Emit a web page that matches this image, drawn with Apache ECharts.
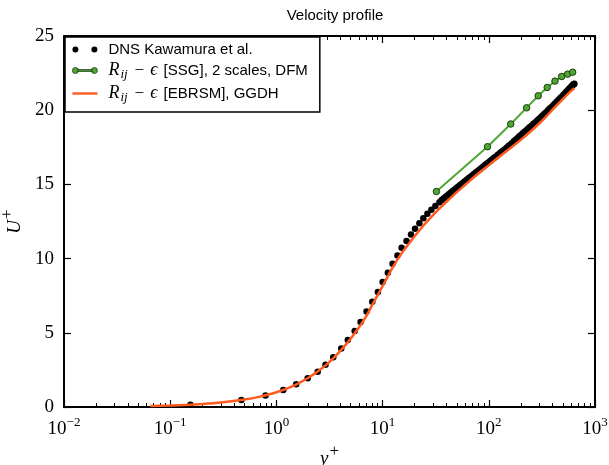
<!DOCTYPE html>
<html>
<head>
<meta charset="utf-8">
<script src="https://cdn.jsdelivr.net/npm/echarts@6/dist/echarts.min.js"></script>
<style>html,body{margin:0;padding:0;background:#fff}#c{width:609px;height:465px}</style>
</head>
<body>
<div id="c"></div>
<script>
// DNS Kawamura et al. (y+, U+)
const dnsY = [0.155,0.468,0.79,1.16,1.535,1.97,2.45,2.90,3.43,4.08,4.70,5.46,6.2,7.06,8.0,9.03,10.0,11.2,12.4,13.8,15.1,16.8,18.5,20.2,22.2,24.2,26.4,28.8,31.4,34.3,
  36,37.5,39,40.5,42,43.7,45.4,47.2,49,51,53,55,57.3,59.6,62,64.5,67,69.7,72.5,75.4,78.4,81.5,84.8,88.2,91.7,95.4,99.2,103,107,112,116,121,126,131,136,141,147,153,159,165,172,179,186,193,201,209,217,226,235,244,254,264,275,286,297,309,321,334,347,361,375,390,405,420,436,452,469,486,503,520,537,554,571,587,602,615,626,634,639];
const dnsU = [0.15,0.47,0.78,1.14,1.53,1.93,2.37,2.85,3.35,3.94,4.52,5.12,5.73,6.43,7.10,7.75,8.42,9.05,9.66,10.21,10.73,11.18,11.63,12.01,12.39,12.72,13.02,13.29,13.55,13.80,
  13.95,14.05,14.15,14.24,14.33,14.43,14.53,14.63,14.72,14.82,14.92,15.01,15.11,15.21,15.31,15.41,15.50,15.60,15.70,15.80,15.89,15.99,16.09,16.19,16.29,16.39,16.48,16.58,16.67,16.79,16.87,16.98,17.08,17.18,17.27,17.36,17.47,17.58,17.68,17.78,17.90,18.01,18.11,18.22,18.33,18.44,18.54,18.65,18.76,18.86,18.97,19.08,19.19,19.30,19.41,19.53,19.65,19.76,19.87,19.99,20.11,20.22,20.34,20.45,20.57,20.68,20.80,20.91,21.02,21.13,21.24,21.34,21.44,21.53,21.61,21.68,21.74,21.77,21.79];
// R_ij - eps [SSG], 2 scales, DFM
const ssgY = [32.1,97.2,161,227,292,355,420,485,552,616];
const ssgU = [14.52,17.54,19.07,20.16,20.97,21.53,21.96,22.27,22.43,22.56];
// R_ij - eps [EBRSM], GGDH
const ebY = [0.065,0.1,0.15,0.2,0.3,0.5,0.7,1.0,1.5,2.0,2.5,3.0,3.5,4.0,4.5,5.0,6.0,7.0,8.0,9.0,10,11,12,13.5,15,17,20,23,26,30,35,40,50,60,70,80,100,130,160,200,250,300,350,400,450,500,550,600,640];
const ebU = [0.065,0.1,0.15,0.2,0.3,0.5,0.7,0.99,1.48,1.97,2.44,2.89,3.34,3.78,4.2,4.6,5.37,6.1,6.88,7.55,8.15,8.7,9.2,9.83,10.33,10.85,11.5,12.03,12.47,12.95,13.43,13.83,14.48,14.98,15.4,15.75,16.3,16.95,17.45,18.0,18.6,19.12,19.6,20.05,20.43,20.77,21.07,21.32,21.48];

const xMinorTicks = [];
for (let k = -2; k <= 2; k++) for (let m = 2; m <= 9; m++) xMinorTicks.push(Math.log10(m) + k);

const serif = 'Liberation Serif';
const sans = 'Liberation Sans';
const pair = (xs, ys) => xs.map((x, i) => [x, ys[i]]);

const legendNames = {
  'DNS': '{pad|}DNS Kawamura et al.',
  'SSG': '{pad|}{it|R}{sub|ij}{op|−}{it|ϵ}{n| [SSG], 2 scales, DFM}',
  'EBRSM': '{pad|}{it|R}{sub|ij}{op|−}{it|ϵ}{n| [EBRSM], GGDH}'
};

const frame = {show: true, onZero: false, lineStyle: {color: '#000', width: 2}};
const supStyle = {fontFamily: serif, fontSize: 17, color: '#000', padding: [0, 0, 15, 1]};
const chart = echarts.init(document.getElementById('c'), null, {renderer: 'canvas'});
chart.setOption({
  animation: false,
  backgroundColor: '#fff',
  title: {
    text: 'Velocity profile', left: 330, top: 3, textAlign: 'center',
    textStyle: {fontFamily: sans, fontSize: 15, fontWeight: 'normal', color: '#000'}
  },
  grid: {left: 64, right: 14, top: 36, bottom: 58, containLabel: false, outerBoundsMode: 'none'},
  legend: {
    orient: 'vertical', left: 65, top: 37,
    padding: [4, 12, 8, 7], itemGap: 3.5, itemWidth: 25, itemHeight: 6,
    borderColor: '#000', borderWidth: 1.5, backgroundColor: '#fff',
    formatter: n => legendNames[n],
    textStyle: {
      fontFamily: sans, fontSize: 15, color: '#000', lineHeight: 17,
      rich: {
        pad: {width: 6},
        n: {fontFamily: sans, fontSize: 15, color: '#000', padding: [0, 0, 0, 2]},
        op: {fontFamily: serif, fontSize: 17, color: '#000', padding: [0, 6, 0, 7]},
        it: {fontFamily: serif, fontStyle: 'italic', fontSize: 18, color: '#000'},
        sub: {fontFamily: serif, fontStyle: 'italic', fontSize: 13, color: '#000', padding: [8, 0, 0, 1]}
      }
    },
    data: [
      {name: 'DNS', icon: 'path://M0,3a3,3 0 1,0 6,0a3,3 0 1,0 -6,0M19,3a3,3 0 1,0 6,0a3,3 0 1,0 -6,0', itemStyle: {color: '#000', opacity: 1}},
      {name: 'SSG', icon: 'path://M0,3a3,3 0 1,0 6,0a3,3 0 1,0 -6,0M19,3a3,3 0 1,0 6,0a3,3 0 1,0 -6,0M5,2.1H20V3.9H5Z', itemStyle: {color: '#4fa633', borderColor: '#1c3d10', borderWidth: 0.8}},
      {name: 'EBRSM', icon: 'path://M0,1.8H25V4.2H0Z', itemStyle: {color: '#ff5a1e', borderWidth: 0}}
    ]
  },
  xAxis: [
    {
      type: 'log', logBase: 10, min: 0.01, max: 1000, position: 'bottom',
      axisLine: frame,
      axisTick: {show: true, inside: true, length: 7, lineStyle: {color: '#000', width: 1.2}},
      splitLine: {show: false},
      axisLabel: {
        margin: 9, color: '#000',
        formatter: v => {
          const e = Math.round(Math.log10(v));
          return '{b|10}{s|' + (e < 0 ? '−' + (-e) : e) + '}';
        },
        rich: {
          b: {fontFamily: serif, fontSize: 19, color: '#000'},
          s: {fontFamily: serif, fontSize: 13, color: '#000', padding: [0, 0, 13, 0]}
        }
      },
      name: '{it|y}{s|+}', nameLocation: 'middle', nameGap: 34,
      nameTextStyle: {
        rich: {
          it: {fontFamily: serif, fontStyle: 'italic', fontSize: 19, color: '#000'},
          s: supStyle
        }
      }
    },
    {
      type: 'log', logBase: 10, min: 0.01, max: 1000, position: 'top',
      axisLine: frame,
      axisTick: {show: true, inside: true, length: 7, lineStyle: {color: '#000', width: 1.2}},
      axisLabel: {show: false}, splitLine: {show: false}
    },
    {
      type: 'value', min: -2, max: 3, position: 'bottom',
      axisLine: {show: false, onZero: false},
      axisTick: {show: true, inside: true, length: 4, customValues: xMinorTicks, lineStyle: {color: '#000', width: 1}},
      axisLabel: {show: false}, splitLine: {show: false}
    },
    {
      type: 'value', min: -2, max: 3, position: 'top',
      axisLine: {show: false, onZero: false},
      axisTick: {show: true, inside: true, length: 4, customValues: xMinorTicks, lineStyle: {color: '#000', width: 1}},
      axisLabel: {show: false}, splitLine: {show: false}
    }
  ],
  yAxis: [
    {
      type: 'value', min: 0, max: 25, interval: 5, position: 'left',
      axisLine: frame,
      axisTick: {show: true, inside: true, length: 7, lineStyle: {color: '#000', width: 1.2}},
      splitLine: {show: false},
      axisLabel: {margin: 10, color: '#000', fontFamily: serif, fontSize: 19},
      name: '{it|U}{s|+}', nameLocation: 'middle', nameGap: 32, nameRotate: 90,
      nameTextStyle: {
        rich: {
          it: {fontFamily: serif, fontStyle: 'italic', fontSize: 19, color: '#000'},
          s: supStyle
        }
      }
    },
    {
      type: 'value', min: 0, max: 25, interval: 5, position: 'right',
      axisLine: frame,
      axisTick: {show: true, inside: true, length: 7, lineStyle: {color: '#000', width: 1.2}},
      axisLabel: {show: false}, splitLine: {show: false}
    }
  ],
  series: [
    {
      name: 'DNS', type: 'scatter', xAxisIndex: 0, yAxisIndex: 0, z: 2,
      symbol: 'circle', symbolSize: 6.5, itemStyle: {color: '#000', opacity: 1},
      data: pair(dnsY, dnsU)
    },
    {
      name: 'SSG', type: 'line', xAxisIndex: 0, yAxisIndex: 0, z: 3,
      symbol: 'circle', symbolSize: 6.5, showSymbol: true,
      lineStyle: {color: '#4fa633', width: 2},
      itemStyle: {color: '#4fa633', borderColor: '#1c3d10', borderWidth: 1},
      data: pair(ssgY, ssgU)
    },
    {
      name: 'EBRSM', type: 'line', xAxisIndex: 0, yAxisIndex: 0, z: 4,
      showSymbol: false, symbol: 'none', smooth: 0.2,
      lineStyle: {color: '#ff5a1e', width: 2.5},
      itemStyle: {color: '#ff5a1e'},
      data: pair(ebY, ebU)
    }
  ]
});
</script>
</body>
</html>
